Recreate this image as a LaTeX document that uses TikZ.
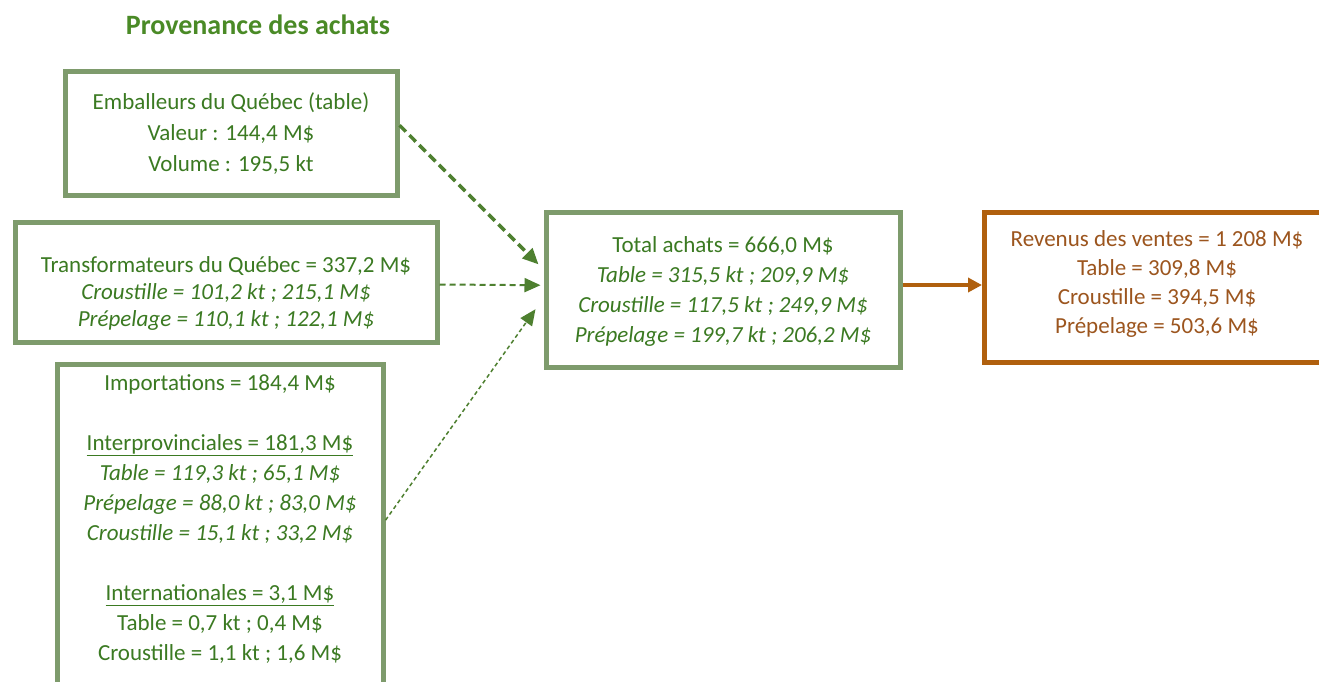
\documentclass[tikz,border=0pt]{standalone}
\usepackage{fontspec}
\setmainfont{Carlito}
\usetikzlibrary{arrows.meta,calc}
\definecolor{boxgreen}{HTML}{7E9B6C}
\definecolor{txtgreen}{HTML}{3B7A22}
\definecolor{titlegreen}{HTML}{4A8A26}
\definecolor{arrgreen}{HTML}{4E8030}
\definecolor{boxorange}{HTML}{B0600E}
\definecolor{txtorange}{HTML}{9C551E}
\tikzset{
  gbox/.style={draw=boxgreen, line width=5pt, rectangle, inner sep=0pt},
  obox/.style={draw=boxorange, line width=5pt, rectangle, inner sep=0pt},
  gtext/.style={text=txtgreen, align=center, inner sep=0pt, font=\fontsize{23}{30}\selectfont},
  otext/.style={text=txtorange, align=center, inner sep=0pt, font=\fontsize{23}{29}\selectfont},
  tip/.style={-{Triangle[length=16pt,width=14pt]}},
}
\begin{document}
\begin{tikzpicture}[x=1pt,y=-1pt]
\useasboundingbox (0,0) rectangle (1319,681);
\clip (0,0) rectangle (1319,681);
\fill[white] (0,0) rectangle (1319,681);

\node[text=titlegreen, font=\fontsize{28}{32}\selectfont\bfseries, inner sep=0pt] (title) at (258,25) {Provenance des achats};

% boxes
\node[gbox, minimum width=332pt, minimum height=124pt] (b1) at (231,133) {};
\node[gbox, minimum width=422pt, minimum height=120pt] (b2) at (226,282) {};
\node[gbox, minimum width=326pt, minimum height=340pt] (b3) at (220,534) {};
\node[gbox, minimum width=354pt, minimum height=155pt] (b4) at (723,290) {};
\node[obox, minimum width=345pt, minimum height=150pt] (b5) at (1157,287) {};

% texts
\node[gtext, font=\fontsize{23}{31}\selectfont] (t1) at (231,134) {Emballeurs du Québec (table)\\Valeur : 144,4 M\$\\Volume : 195,5 kt};
\node[gtext, font=\fontsize{23}{27}\selectfont] (t2) at (226,293) {Transformateurs du Québec = 337,2 M\$\\\textit{Croustille = 101,2 kt ; 215,1 M\$}\\\textit{Prépelage = 110,1 kt ; 122,1 M\$}};
\node[gtext] (t3) at (220,519) {Importations = 184,4 M\$\\[30pt]
\underline{Interprovinciales = 181,3 M\$}\\
\textit{Table = 119,3 kt ; 65,1 M\$}\\
\textit{Prépelage = 88,0 kt ; 83,0 M\$}\\
\textit{Croustille = 15,1 kt ; 33,2 M\$}\\[30pt]
\underline{Internationales = 3,1 M\$}\\
Table = 0,7 kt ; 0,4 M\$\\
Croustille = 1,1 kt ; 1,6 M\$};
\node[gtext] (t4) at (723,291) {Total achats = 666,0 M\$\\\textit{Table = 315,5 kt ; 209,9 M\$}\\\textit{Croustille = 117,5 kt ; 249,9 M\$}\\\textit{Prépelage = 199,7 kt ; 206,2 M\$}};
\node[otext] (t5) at (1157,284) {Revenus des ventes = 1 208 M\$\\Table = 309,8 M\$\\Croustille = 394,5 M\$\\Prépelage = 503,6 M\$};

% connectors
\coordinate (s1) at ($(b1.north east)!0.44!(b1.south east)$);
\coordinate (e1) at ($(b4.north west)!0.34!(b4.south west)$);
\coordinate (s2) at ($(b2.north east)!0.52!(b2.south east)$);
\coordinate (e2) at ($(b4.north west)!0.47!(b4.south west)$);
\coordinate (s3) at ($(b3.north east)!0.46!(b3.south east)$);
\coordinate (e3) at ($(b4.north west)!0.62!(b4.south west)$);
\draw[arrgreen, line width=3.5pt, dash pattern=on 9pt off 5pt, tip] (s1) -- ([xshift=-5pt]e1);
\draw[arrgreen, line width=2pt, dash pattern=on 6pt off 4pt, tip] (s2) -- ([xshift=-3pt]e2);
\draw[arrgreen, line width=1.5pt, dash pattern=on 4pt off 3pt, tip] (s3) -- ([xshift=-8pt]e3);
\draw[boxorange, line width=4pt, -{Triangle[length=14pt,width=14pt]}] ($(b4.east)+(0,-5)$) -- ($(b5.west)+(0,-2)$);
\end{tikzpicture}
\end{document}
